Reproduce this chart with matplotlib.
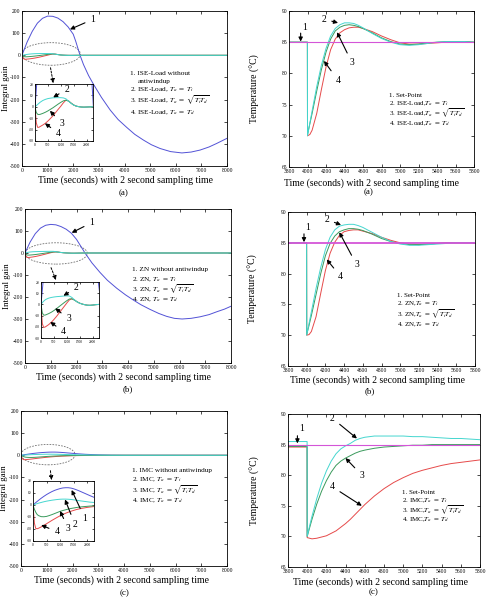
import numpy as np
import matplotlib
matplotlib.use('Agg')
import matplotlib.pyplot as plt
from matplotlib.patches import Ellipse

plt.rcParams['font.family'] = ['Liberation Serif', 'DejaVu Serif']
plt.rcParams['mathtext.fontset'] = 'stix'
plt.rcParams['axes.unicode_minus'] = False

# ---------------- integral gain data (left column) ----------------
# curve 1 (without antiwindup)
blue_t_a = [0, 200, 400, 600, 800, 1000, 1200, 1400, 1600, 1800, 2000, 2100, 2265, 2400, 2600,
            2785, 3100, 3440, 3750, 4090, 4400, 4740, 5050, 5390, 5800, 6240, 6600, 6950,
            7300, 7600, 8000]
blue_a = [0, 60, 108, 145, 167, 177, 176, 168, 152, 128, 95, 62, 0, -42, -92,
          -130, -190, -247, -290, -326, -357, -383, -404, -421, -435, -441, -437, -428,
          -414, -398, -375]

blue_t_b = [0, 200, 400, 600, 800, 1000, 1200, 1400, 1600, 1800, 2000, 2330, 2600, 2910,
            3200, 3560, 3900, 4210, 4500, 4850, 5200, 5500, 5800, 6100, 6450, 6800, 7150,
            7450, 7750, 8000]
blue_b = [0, 50, 88, 113, 126, 130, 128, 120, 108, 90, 62, 0, -45, -88,
          -124, -160, -190, -214, -235, -256, -275, -288, -297, -300, -297, -290, -280,
          -267, -255, -242]

# curves 2-4 (and curve 1 of IMC) on a shared time grid
t_grid = [0, 50, 100, 150, 200, 300, 400, 500, 600, 700, 800, 900, 1000, 1100, 1200, 1300,
          1400, 1500, 1600, 1700, 1800, 1900, 2000, 2100, 2250, 2500, 3000, 3500, 4000, 8000]

ise_2 = [0, 1.0, 2.0, 3.0, 4.0, 5.5, 6.5, 7.2, 7.6, 7.9, 8.0, 8.0, 8.0, 7.8, 7.0, 5.0,
         3.0, 1.5, 0.6, 0.1, -0.2, -0.3, -0.2, -0.1, 0, 0, 0, 0, 0, 0]
ise_3 = [0, -5.0, -6.5, -6.8, -6.6, -5.8, -4.8, -3.6, -2.2, -0.8, 0.8, 2.4, 3.9, 5.2, 5.8, 5.0,
         3.2, 1.6, 0.6, 0.1, -0.2, -0.3, -0.2, -0.1, 0, 0, 0, 0, 0, 0]
ise_4 = [0, -14, -18, -18, -17.3, -16, -14.5, -12.5, -10.2, -7.8, -5.0, -2.2, 0.5, 3.5, 5.8, 5.2,
         3.3, 1.6, 0.6, 0.1, -0.2, -0.3, -0.2, -0.1, 0, 0, 0, 0, 0, 0]

zn_2 = [0, 1.5, 2.8, 3.8, 4.6, 5.6, 6.2, 6.6, 6.9, 7.1, 7.3, 7.5, 7.6, 7.5, 6.2, 4.0,
        2.2, 1.0, 0.3, -0.3, -0.7, -0.8, -0.6, -0.3, 0, 0, 0, 0, 0, 0]
zn_3 = [0, -7.5, -9.5, -9.6, -9.2, -8.2, -7.0, -5.5, -3.8, -2.0, -0.2, 1.6, 3.3, 4.8, 5.0, 3.8,
        2.3, 1.1, 0.3, -0.3, -0.7, -0.8, -0.6, -0.3, 0, 0, 0, 0, 0, 0]
zn_4 = [0, -17, -20.5, -20.3, -19.6, -18, -16, -13.5, -10.8, -7.8, -4.8, -1.8, 1.2, 4.0, 5.0, 3.9,
        2.3, 1.1, 0.3, -0.3, -0.7, -0.8, -0.6, -0.3, 0, 0, 0, 0, 0, 0]

imc_1 = [0, 1.0, 2.0, 2.9, 3.8, 5.6, 7.2, 8.7, 10.0, 11.2, 12.2, 13.0, 13.7, 14.2, 14.4, 14.4,
         14.1, 13.5, 12.7, 11.8, 10.8, 9.8, 8.8, 7.8, 6.4, 4.5, 2.0, 0.6, 0.1, 0]
imc_2 = [0, 0.4, 0.8, 1.1, 1.5, 2.1, 2.7, 3.2, 3.6, 4.0, 4.3, 4.6, 4.8, 4.9, 4.9, 4.8,
         4.6, 4.3, 4.0, 3.6, 3.3, 3.0, 2.7, 2.4, 2.1, 1.6, 0.8, 0.3, 0.1, 0]
imc_3 = [0, -3.5, -6, -7.8, -8.8, -9.7, -9.8, -9.5, -8.8, -8.0, -7.1, -6.2, -5.3, -4.6, -4.0, -3.4,
         -2.9, -2.5, -2.1, -1.8, -1.5, -1.3, -1.1, -0.9, -0.7, -0.5, -0.2, -0.1, 0, 0]
imc_4 = [0, -15, -19.5, -19.8, -19.4, -18.3, -17.0, -15.6, -14.2, -12.8, -11.5, -10.2, -9.0, -7.9,
         -6.9, -6.0, -5.2, -4.5, -3.8, -3.3, -2.8, -2.4, -2.0, -1.7, -1.3, -0.9, -0.4, -0.1, 0, 0]

# ---------------- temperature data (right column) ----------------
t_temp = [3800, 3999, 4000, 4025, 4050, 4100, 4150, 4200, 4250, 4300, 4350, 4400, 4450, 4500,
          4550, 4600, 4700, 4800, 4900, 5000, 5100, 5200, 5300, 5400, 5500, 5600, 5700, 5800]
sp_t = [3800, 5800]
set_point = [85, 85]

temp_ise_2 = [85, 85, 70.0, 72.0, 74.0, 77.9, 81.3, 84.0, 86.0, 87.2, 87.8, 88.1, 88.1, 88.0,
              87.7, 87.3, 86.4, 85.6, 85.0, 84.6, 84.5, 84.6, 84.8, 85.0, 85.1, 85.1, 85.1, 85.0]
temp_ise_3 = [85, 85, 70.2, 71.9, 73.6, 77.2, 80.6, 83.4, 85.5, 86.8, 87.4, 87.7, 87.8, 87.7,
              87.5, 87.2, 86.5, 85.7, 85.1, 84.7, 84.6, 84.7, 84.9, 85.0, 85.1, 85.1, 85.1, 85.0]
temp_ise_4 = [85, 85, 70.0, 70.2, 70.9, 73.6, 77.4, 81.0, 83.8, 85.5, 86.5, 87.0, 87.3, 87.4,
              87.4, 87.2, 86.7, 86.0, 85.4, 84.9, 84.7, 84.7, 84.8, 84.9, 85.0, 85.1, 85.1, 85.0]

temp_zn_2 = [85, 85, 70.0, 71.9, 73.8, 77.6, 81.0, 83.9, 85.9, 87.1, 87.7, 87.9, 88.0, 88.0,
             87.8, 87.5, 86.7, 85.9, 85.2, 84.8, 84.6, 84.6, 84.7, 84.8, 84.9, 85.0, 85.0, 85.0]
temp_zn_3 = [85, 85, 70.1, 71.6, 73.2, 76.6, 80.0, 82.9, 84.9, 86.1, 86.8, 87.1, 87.3, 87.3,
             87.2, 87.0, 86.4, 85.7, 85.2, 84.9, 84.7, 84.7, 84.8, 84.9, 85.0, 85.0, 85.0, 85.0]
temp_zn_4 = [85, 85, 70.0, 70.1, 70.6, 73.0, 76.8, 80.5, 83.3, 85.1, 86.2, 86.8, 87.0, 87.1,
             87.1, 86.9, 86.5, 85.9, 85.4, 85.0, 84.8, 84.7, 84.8, 84.9, 85.0, 85.0, 85.0, 85.0]

temp_imc_2 = [85.5, 85.5, 70.0, 71.7, 73.3, 76.2, 78.7, 80.7, 82.3, 83.5, 84.3, 84.8, 85.2, 85.7,
              86.0, 86.2, 86.4, 86.4, 86.4, 86.4, 86.3, 86.3, 86.2, 86.1, 86.0, 86.0, 85.9, 85.8]
temp_imc_3 = [84.7, 84.7, 70.0, 71.4, 72.8, 75.3, 77.4, 79.1, 80.5, 81.6, 82.3, 82.8, 83.2, 83.6,
              83.9, 84.1, 84.4, 84.6, 84.7, 84.8, 84.9, 84.9, 85.0, 85.0, 85.0, 85.0, 85.0, 85.0]
temp_imc_4 = [84.6, 84.6, 69.8, 69.7, 69.6, 69.7, 69.9, 70.1, 70.5, 70.9, 71.5, 72.1, 72.8, 73.6,
              74.4, 75.2, 76.6, 77.8, 78.8, 79.6, 80.3, 80.8, 81.2, 81.6, 81.9, 82.1, 82.3, 82.5]

C_BLUE = '#5252d6'
C_CYAN = '#45d6cf'
C_GREEN = '#3a9a5c'
C_RED = '#e64a4a'
C_MAG = '#d455d8'
LW = 0.7

XLAB = 'Time (seconds) with 2 second sampling time'


def px_rect(x0, y0, x1, y1):
    return [x0 / 486, 1 - y1 / 600, (x1 - x0) / 486, (y1 - y0) / 600]


def style(ax, fs, length=2.0):
    ax.tick_params(direction='in', top=True, right=True, labelsize=fs,
                   length=length, width=0.5, pad=1.2)
    for sp in ax.spines.values():
        sp.set_linewidth(0.6)


def arrow(ax, label, tip, txt, fs=7, dashed=False):
    props = dict(arrowstyle='-|>', color='k', lw=0.8, mutation_scale=6,
                 shrinkA=2, shrinkB=0)
    if dashed:
        props.update(linestyle=(0, (2, 1.5)), lw=0.7)
    ax.annotate(label, xy=tip, xytext=txt, fontsize=fs, ha='center', va='center',
                arrowprops=props)


def integral_panel(fig, rect, in_rect, blue_t, blue_v, tb, c2, c3, c4, ell, dash,
                   main_arrows, in_arrows, legend, ylab_x, xlab_xy, tag_xy, tag):
    ax = fig.add_axes(rect)
    ax.plot(blue_t, blue_v, color=C_BLUE, lw=LW)
    ax.plot(tb, c4, color=C_RED, lw=LW)
    ax.plot(tb, c3, color=C_GREEN, lw=LW)
    ax.plot(tb, c2, color=C_CYAN, lw=LW)
    ax.set_xlim(0, 8000)
    ax.set_ylim(-500, 200)
    ax.set_xticks(np.arange(0, 8001, 1000))
    ax.set_yticks(np.arange(-500, 201, 100))
    style(ax, 4)
    ax.set_ylabel('Integral gain', fontsize=6.5)
    ax.yaxis.set_label_coords(ylab_x, 0.5)
    ax.add_patch(Ellipse(ell[:2], ell[2], ell[3], fill=False, ec='#707070',
                         lw=0.6, ls=(0, (2, 1.5))))
    arrow(ax, '', dash[1], dash[0], dashed=True)
    for lab, tip, txt in main_arrows:
        arrow(ax, lab, tip, txt)
    for s, (x, y) in legend:
        ax.text(x, y, s, transform=ax.transAxes, fontsize=5.2, va='center', ha='left')
    fig.text(xlab_xy[0] / 486, 1 - xlab_xy[1] / 600, XLAB, fontsize=7, ha='center', va='center')
    fig.text(tag_xy[0] / 486, 1 - tag_xy[1] / 600, tag, fontsize=6.5, ha='center', va='center')

    ins = fig.add_axes(in_rect)
    ins.plot(blue_t, blue_v, color=C_BLUE, lw=LW)
    ins.plot(tb, c4, color=C_RED, lw=LW)
    ins.plot(tb, c3, color=C_GREEN, lw=LW)
    ins.plot(tb, c2, color=C_CYAN, lw=LW)
    ins.set_xlim(0, 2250)
    ins.set_ylim(-30, 20)
    ins.set_xticks(np.arange(0, 2001, 500))
    ins.set_yticks(np.arange(-30, 21, 10))
    style(ins, 2.6, 1.2)
    for lab, tip, txt in in_arrows:
        arrow(ins, lab, tip, txt)
    return ax


def temp_panel(fig, rect, c2, c3, c4, sp_lw, arrows, one, legend, ylab_x, xlab_xy, tag_xy, tag):
    ax = fig.add_axes(rect)
    ax.plot(t_temp, c4, color=C_RED, lw=LW)
    ax.plot(t_temp, c3, color=C_GREEN, lw=LW)
    ax.plot(t_temp, c2, color=C_CYAN, lw=LW)
    ax.plot(sp_t, set_point, color=C_MAG, lw=sp_lw)
    ax.set_xlim(3800, 5800)
    ax.set_ylim(65, 90)
    ax.set_xticks(np.arange(3800, 5801, 200))
    ax.set_yticks(np.arange(65, 91, 5))
    style(ax, 4)
    ax.set_ylabel('Temperature (°C)', fontsize=7)
    ax.yaxis.set_label_coords(ylab_x, 0.5)
    for lab, tip, txt in arrows:
        arrow(ax, lab, tip, txt)
    # set-point marker arrow
    (xa, y0, y1), (xt, yt) = one
    arrow(ax, '', (xa, y1), (xa, y0))
    ax.text(xt, yt, '1', fontsize=7, ha='center', va='center')
    for s, (x, y) in legend:
        ax.text(x, y, s, transform=ax.transAxes, fontsize=5.0, va='center', ha='left')
    fig.text(xlab_xy[0] / 486, 1 - xlab_xy[1] / 600, XLAB, fontsize=7, ha='center', va='center')
    fig.text(tag_xy[0] / 486, 1 - tag_xy[1] / 600, tag, fontsize=6.5, ha='center', va='center')
    return ax


fig = plt.figure(figsize=(4.86, 6.0), dpi=100)

# (a) left
integral_panel(
    fig, px_rect(22, 11, 227, 166), px_rect(35, 84, 93, 141),
    blue_t_a, blue_a, t_grid, ise_2, ise_3, ise_4,
    (1130, 6, 2300, 102), ((1093, -44), (1221, -126)),
    [('1', (1873, 117), (2760, 162))],
    [('2', (706, 8.3), (1223, 15.3)), ('3', (579, -3.5), (1030, -14.4)),
     ('4', (386, -14.5), (900, -23.1))],
    [('1. ISE-Load without', (0.527, 0.594)), ('antiwindup', (0.566, 0.548)),
     ('2. ISE-Load, $T_a\\ =\\ T_i$', (0.527, 0.49)),
     ('3. ISE-Load, $T_a\\ =\\ \\sqrt{T_i T_d}$', (0.527, 0.423)),
     ('4. ISE-Load, $T_a\\ =\\ T_d$', (0.527, 0.345))],
    -0.06, (125, 180), (124, 193), '(a)')

# (b) left
integral_panel(
    fig, px_rect(25, 209, 231, 363), px_rect(41, 282, 99, 338),
    blue_t_b, blue_b, t_grid, zn_2, zn_3, zn_4,
    (1210, -2, 2420, 97), ((971, -55), (1204, -123)),
    [('1', (1813, 92), (2590, 138))],
    [('2', (872, 7.8), (1362, 14.7)), ('3', (552, -3.5), (1065, -12.7)),
     ('4', (359, -15.6), (872, -24.4))],
    [('1. ZN without antiwindup', (0.518, 0.608)),
     ('2. ZN, $T_a\\ =\\ T_i$', (0.518, 0.539)),
     ('3. ZN, $T_a\\ =\\ \\sqrt{T_i T_d}$', (0.518, 0.475)),
     ('4. ZN, $T_a\\ =\\ T_d$', (0.518, 0.41))],
    -0.07, (123, 377), (128, 389), '(b)')

# (c) left
integral_panel(
    fig, px_rect(21, 411, 227, 566), px_rect(33, 481, 94, 541),
    t_grid, imc_1, t_grid, imc_2, imc_3, imc_4,
    (1050, 3, 2100, 92), ((1126, -57), (1192, -112)),
    [],
    [('1', (1424, 12.5), (1910, -11)), ('2', (1180, 4.6), (1545, -16)),
     ('3', (997, -5.0), (1300, -19.4)), ('4', (303, -16.7), (877, -22.2))],
    [('1. IMC without antiwindup', (0.537, 0.615)),
     ('2. IMC, $T_a\\ =\\ T_i$', (0.537, 0.555)),
     ('3. IMC, $T_a\\ =\\ \\sqrt{T_i T_d}$', (0.537, 0.49)),
     ('4. IMC, $T_a\\ =\\ T_d$', (0.537, 0.425))],
    -0.062, (121, 580), (125, 593), '(c)')

# (a) right
temp_panel(
    fig, px_rect(289, 11, 474, 167), temp_ise_2, temp_ise_3, temp_ise_4, 0.8,
    [('2', (4330, 88.1), (4178, 88.7)), ('3', (4319, 86.6), (4481, 81.7)),
     ('4', (4178, 82.0), (4330, 78.9))],
    ((3926, 86.9, 85.1), (3965, 87.4)),
    [('1. Set-Point', (0.542, 0.458)), ('2. ISE-Load,$T_a\\ =\\ T_i$', (0.542, 0.408)),
     ('3. ISE-Load,$T_a\\ =\\ \\sqrt{T_i T_d}$', (0.542, 0.34)),
     ('4. ISE-Load,$T_a\\ =\\ T_d$', (0.542, 0.278))],
    -0.155, (372, 183), (369, 192), '(a)')

# (b) right
temp_panel(
    fig, px_rect(288, 212, 475, 366), temp_zn_2, temp_zn_3, temp_zn_4, 1.3,
    [('2', (4367, 87.9), (4214, 88.8)), ('3', (4349, 86.7), (4535, 81.4)),
     ('4', (4214, 82.3), (4364, 79.5))],
    ((3971, 86.9, 85.1), (4010, 87.5)),
    [('1. Set-Point', (0.581, 0.455)), ('2. ZN,$T_a\\ =\\ T_i$', (0.581, 0.403)),
     ('3. ZN,$T_a\\ =\\ \\sqrt{T_i T_d}$', (0.581, 0.334)),
     ('4. ZN,$T_a\\ =\\ T_d$', (0.581, 0.271))],
    -0.16, (377, 380), (370, 391), '(b)')

# (c) right
temp_panel(
    fig, px_rect(288, 414, 480, 567), temp_imc_2, temp_imc_3, temp_imc_4, 0.8,
    [('2', (4518, 86.0), (4262, 89.3)), ('3', (4399, 82.8), (4569, 80.0)),
     ('4', (4569, 75.0), (4262, 78.1))],
    ((3898, 86.9, 85.2), (3946, 87.6)),
    [('1. Set-Point', (0.593, 0.488)), ('2. IMC,$T_a\\ =\\ T_i$', (0.593, 0.436)),
     ('3. IMC,$T_a\\ =\\ \\sqrt{T_i T_d}$', (0.593, 0.372)),
     ('4. IMC,$T_a\\ =\\ T_d$', (0.593, 0.31))],
    -0.145, (380, 582), (374, 592), '(c)')

fig.savefig('out.png', dpi=100)
